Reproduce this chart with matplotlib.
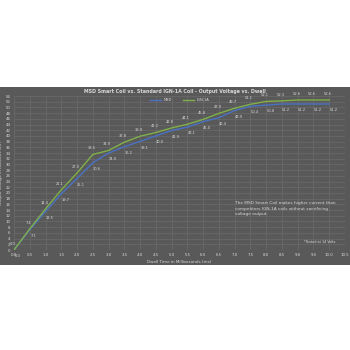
import numpy as np
import matplotlib
matplotlib.use("Agg")
from matplotlib import pyplot as plt
from matplotlib.patches import Rectangle

# Dwell time (ms) and output voltage (kV)
dwell = [0.0, 0.5, 1.0, 1.5, 2.0, 2.5, 3.0, 3.5, 4.0, 4.5, 5.0,
         5.5, 6.0, 6.5, 7.0, 7.5, 8.0, 8.5, 9.0, 9.5, 10.0]
msd = [0.0, 7.1, 13.5, 19.7, 25.1, 30.6, 34.0, 36.2, 38.1, 40.0, 41.9,
       43.1, 45.0, 46.4, 48.9, 50.4, 50.8, 51.2, 51.2, 51.2, 51.2]
ign1a = [0.0, 7.4, 14.4, 21.1, 27.0, 33.5, 34.9, 37.8, 39.9, 41.2, 42.8,
         44.1, 45.8, 47.9, 49.7, 51.1, 52.1, 52.3, 52.6, 52.6, 52.6]
x_ticks = np.arange(0, 10.51, 0.5)
y_ticks = np.arange(0, 55, 2)

BG = "#595959"
GRID = "#6b6b6b"
TXT = "#d9d9d9"
BLUE = "#4a72c4"
GREEN = "#7fb04a"

fig = plt.figure(figsize=(3.5, 3.5), dpi=100)
fig.patch.set_facecolor("white")

# dark chart area behind the axes
bg = Rectangle((0, 1 - 265 / 350), 1, 178 / 350, transform=fig.transFigure,
               facecolor=BG, edgecolor="none", zorder=-10)
fig.add_artist(bg)

ax = fig.add_axes([14 / 350, 1 - 250 / 350, 331 / 350, 154 / 350], zorder=5)
ax.set_facecolor(BG)
for s in ax.spines.values():
    s.set_visible(False)

ax.plot(dwell, msd, color=BLUE, lw=1.0, label="MSD", zorder=3)
ax.plot(dwell, ign1a, color=GREEN, lw=1.0, label="IGN-1A", zorder=3)

# data labels
for x, v in zip(dwell, ign1a):
    ax.annotate("%.1f" % v, (x, v), xytext=(-1, 3), textcoords="offset points",
                fontsize=2.6, color=TXT, ha="center", va="bottom")
for x, v in zip(dwell, msd):
    ax.annotate("%.1f" % v, (x, v), xytext=(3, -3), textcoords="offset points",
                fontsize=2.6, color=TXT, ha="center", va="top")

ax.set_xlim(0, 10.5)
ax.set_ylim(0, 54)
ax.set_xticks(x_ticks)
ax.set_xticklabels(["%.1f" % t for t in x_ticks])
ax.set_yticks(y_ticks)
ax.tick_params(length=0, labelsize=2.8, labelcolor=TXT, pad=2.5)
ax.grid(True, color=GRID, lw=0.5)
ax.set_axisbelow(True)

ax.set_xlabel("Dwell Time in Milliseconds (ms)", fontsize=3, color=TXT, labelpad=2)
ax.set_ylabel("Output Voltage in Kilovolts (kV)", fontsize=3, color=TXT, labelpad=2)

fig.text(0.5, 1 - 91 / 350,
         "MSD Smart Coil vs. Standard IGN-1A Coil - Output Voltage vs. Dwell",
         ha="center", va="center", fontsize=3.4, color=TXT, fontweight="bold")
leg = ax.legend(loc="upper center", bbox_to_anchor=(0.5, 1.0), ncol=2,
                frameon=False, fontsize=2.6, labelcolor=TXT, handlelength=3,
                columnspacing=3, borderaxespad=0.1)
leg.set_zorder(10)

ax.text(7.0, 14.5,
        "The MSD Smart Coil makes higher current than\n"
        "competitors IGN-1A coils without sacrificing\n"
        "voltage output.",
        fontsize=3.1, color=TXT, ha="left", va="center", linespacing=1.4)
ax.text(10.2, 2.8, "*Tested at 14 Volts", fontsize=2.4, color=TXT,
        ha="right", va="center")

fig.savefig("out.png", dpi=100, facecolor="white")
